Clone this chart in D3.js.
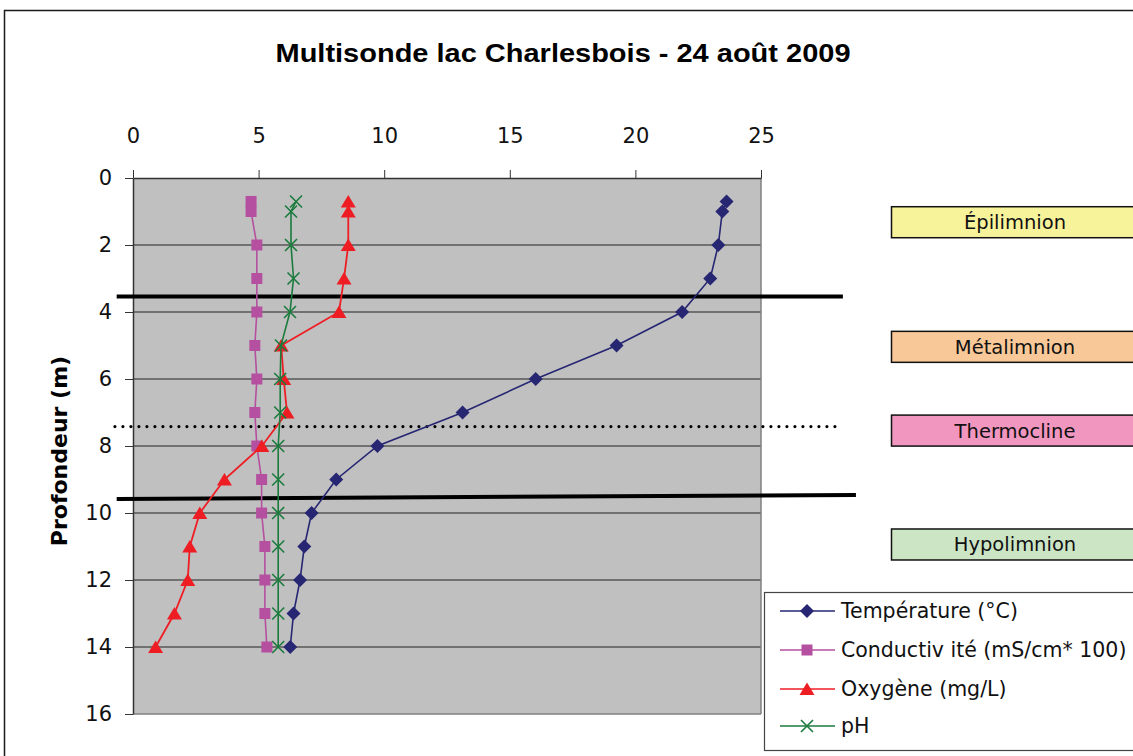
<!DOCTYPE html>
<html><head><meta charset="utf-8">
<script src="https://cdn.jsdelivr.net/npm/d3@7"></script>
<style>body{margin:0;background:#fff;overflow:hidden}</style>
</head><body>
<svg id="c" width="1133" height="756"></svg>
<script>
// ---- data ----
const depth = [0.7, 1, 2, 3, 4, 5, 6, 7, 8, 9, 10, 11, 12, 13, 14];
const temperature = [23.63, 23.46, 23.3, 22.98, 21.86, 19.25, 16.03, 13.12, 9.73, 8.09, 7.11, 6.82, 6.65, 6.39, 6.26];
const conductivity = [4.70, 4.70, 4.93, 4.93, 4.93, 4.85, 4.93, 4.85, 4.93, 5.12, 5.12, 5.25, 5.25, 5.25, 5.33];
const oxygen = [8.57, 8.57, 8.57, 8.4, 8.2, 5.9, 6.0, 6.13, 5.13, 3.64, 2.66, 2.26, 2.18, 1.65, 0.9];
const ph = [6.49, 6.29, 6.29, 6.39, 6.25, 5.89, 5.86, 5.86, 5.78, 5.78, 5.78, 5.78, 5.78, 5.78, 5.78];
const seriesNames = ["Température (°C)", "Conductiv ité (mS/cm* 100)", "Oxygène (mg/L)", "pH"];
const xTicks = [0, 5, 10, 15, 20, 25];
const yTicks = [0, 2, 4, 6, 8, 10, 12, 14, 16];
const zoneNames = ["Épilimnion", "Métalimnion", "Thermocline", "Hypolimnion"];
const zoneDepths = [1.32, 5.04, 7.54, 10.94];
const boundaryLines = [
  {x0: -0.65, x1: 28.26, d0: 3.54, d1: 3.54, dotted: false},
  {x0: -0.72, x1: 28.02, d0: 7.42, d1: 7.42, dotted: true},
  {x0: -0.65, x1: 28.78, d0: 9.58, d1: 9.46, dotted: false}
];
const title = "Multisonde lac Charlesbois - 24 août 2009";
const yTitle = "Profondeur (m)";

// ---- layout ----
const svg = d3.select("#c");
const L = 133, R = 761, T = 178, B = 714;
const x = d3.scaleLinear().domain([0, 25]).range([L, R]);
const y = d3.scaleLinear().domain([0, 16]).range([T, B]);
const font = "'DejaVu Sans', sans-serif";

// outer frame
svg.append("rect").attr("x", 4.5).attr("y", 10.5).attr("width", 1200).attr("height", 800)
  .attr("fill", "#fff").attr("stroke", "#1a1a1a").attr("stroke-width", 1.5);

// title
svg.append("text").attr("x", 563).attr("y", 62).attr("text-anchor", "middle")
  .attr("font-family", "'Liberation Sans', Arial, sans-serif").attr("font-weight", "bold")
  .attr("font-size", 26).attr("textLength", 575).attr("lengthAdjust", "spacingAndGlyphs")
  .attr("fill", "#000").text(title);

// plot area
svg.append("rect").attr("x", L).attr("y", T).attr("width", R - L).attr("height", B - T)
  .attr("fill", "#c0c0c0");

// gridlines
svg.append("g").selectAll("line").data(yTicks.filter(d => d > 0 && d < 16)).join("line")
  .attr("x1", L).attr("x2", R).attr("y1", d => y(d)).attr("y2", d => y(d))
  .attr("stroke", "#222").attr("stroke-width", 1);

// borders right & bottom
svg.append("line").attr("x1", R).attr("x2", R).attr("y1", T).attr("y2", B).attr("stroke", "#808080").attr("stroke-width", 1.5);
svg.append("line").attr("x1", L).attr("x2", R).attr("y1", B).attr("y2", B).attr("stroke", "#808080").attr("stroke-width", 1.5);

// axes
const xAxis = svg.append("g").attr("transform", `translate(0,${T})`)
  .call(d3.axisTop(x).tickValues(xTicks).tickSize(8).tickPadding(27).tickSizeOuter(0));
const yAxis = svg.append("g").attr("transform", `translate(${L},0)`)
  .call(d3.axisLeft(y).tickValues(yTicks).tickSize(8).tickPadding(13).tickSizeOuter(0));
[xAxis, yAxis].forEach(g => {
  g.select(".domain").attr("stroke", "#333").attr("stroke-width", 1.5);
  g.selectAll(".tick line").attr("stroke", "#333");
  g.selectAll(".tick text").attr("font-family", font).attr("font-size", 21).attr("fill", "#111");
});

// y title
svg.append("text").attr("transform", "translate(67,451) rotate(-90)").attr("text-anchor", "middle")
  .attr("font-family", font).attr("font-weight", "bold").attr("font-size", 22).attr("fill", "#000")
  .text(yTitle);

// boundary lines
svg.append("g").selectAll("line").data(boundaryLines).join("line")
  .attr("x1", d => x(d.x0)).attr("x2", d => x(d.x1))
  .attr("y1", d => y(d.d0)).attr("y2", d => y(d.d1))
  .attr("stroke", "#000")
  .attr("stroke-width", d => d.dotted ? 3.2 : 4)
  .attr("stroke-linecap", d => d.dotted ? "round" : "butt")
  .attr("stroke-dasharray", d => d.dotted ? "0,8" : null);

// zone boxes
const zg = svg.append("g");
zoneNames.forEach((n, i) => {
  const cy = y(zoneDepths[i]);
  const colors = ["#f7f39b", "#f8c899", "#f196bf", "#cce6c5"];
  zg.append("rect").attr("x", 891.5).attr("y", cy - 15.5).attr("width", 260).attr("height", 31)
    .attr("fill", colors[i]).attr("stroke", "#111").attr("stroke-width", 1.5);
  zg.append("text").attr("x", 1015).attr("y", cy + 7).attr("text-anchor", "middle")
    .attr("font-family", font).attr("font-size", 19.5).attr("fill", "#111").text(n);
});

// series
const colors = ["#262673", "#b4509f", "#ee1d24", "#1b7b3d"];
const values = [temperature, conductivity, oxygen, ph];
const markers = [
  (g, c) => g.append("path").attr("d", "M0,-7L7,0L0,7L-7,0Z").attr("fill", c),
  (g, c) => g.append("rect").attr("x", -5.5).attr("y", -5.5).attr("width", 11).attr("height", 11).attr("fill", c),
  (g, c) => g.append("path").attr("d", "M0,-6.5L7.5,6L-7.5,6Z").attr("fill", c),
  (g, c) => g.append("path").attr("d", "M-6,-6L6,6M-6,6L6,-6").attr("stroke", c).attr("stroke-width", 1.6).attr("fill", "none")
];
const line = d3.line().x(d => x(d[0])).y(d => y(d[1]));
values.forEach((vals, si) => {
  const pts = vals.map((v, i) => [v, depth[i]]);
  const g = svg.append("g");
  g.append("path").attr("d", line(pts)).attr("fill", "none").attr("stroke", colors[si]).attr("stroke-width", si === 2 ? 1.8 : 1.6);
  pts.forEach(p => {
    const mg = g.append("g").attr("transform", `translate(${x(p[0])},${y(p[1])})`);
    markers[si](mg, colors[si]);
  });
});

// legend
const lg = svg.append("g");
lg.append("rect").attr("x", 764.5).attr("y", 592.5).attr("width", 400).attr("height", 158)
  .attr("fill", "#fff").attr("stroke", "#444").attr("stroke-width", 1.2);
const rowY = [611, 650, 689, 726];
seriesNames.forEach((n, i) => {
  lg.append("line").attr("x1", 780).attr("x2", 835).attr("y1", rowY[i]).attr("y2", rowY[i])
    .attr("stroke", colors[i]).attr("stroke-width", 1.6);
  const mg = lg.append("g").attr("transform", `translate(807,${rowY[i]})`);
  markers[i](mg, colors[i]);
  lg.append("text").attr("x", 841).attr("y", rowY[i] + 7).attr("font-family", font)
    .attr("font-size", 20.5).attr("fill", "#111").text(n);
});
</script>
</body></html>
